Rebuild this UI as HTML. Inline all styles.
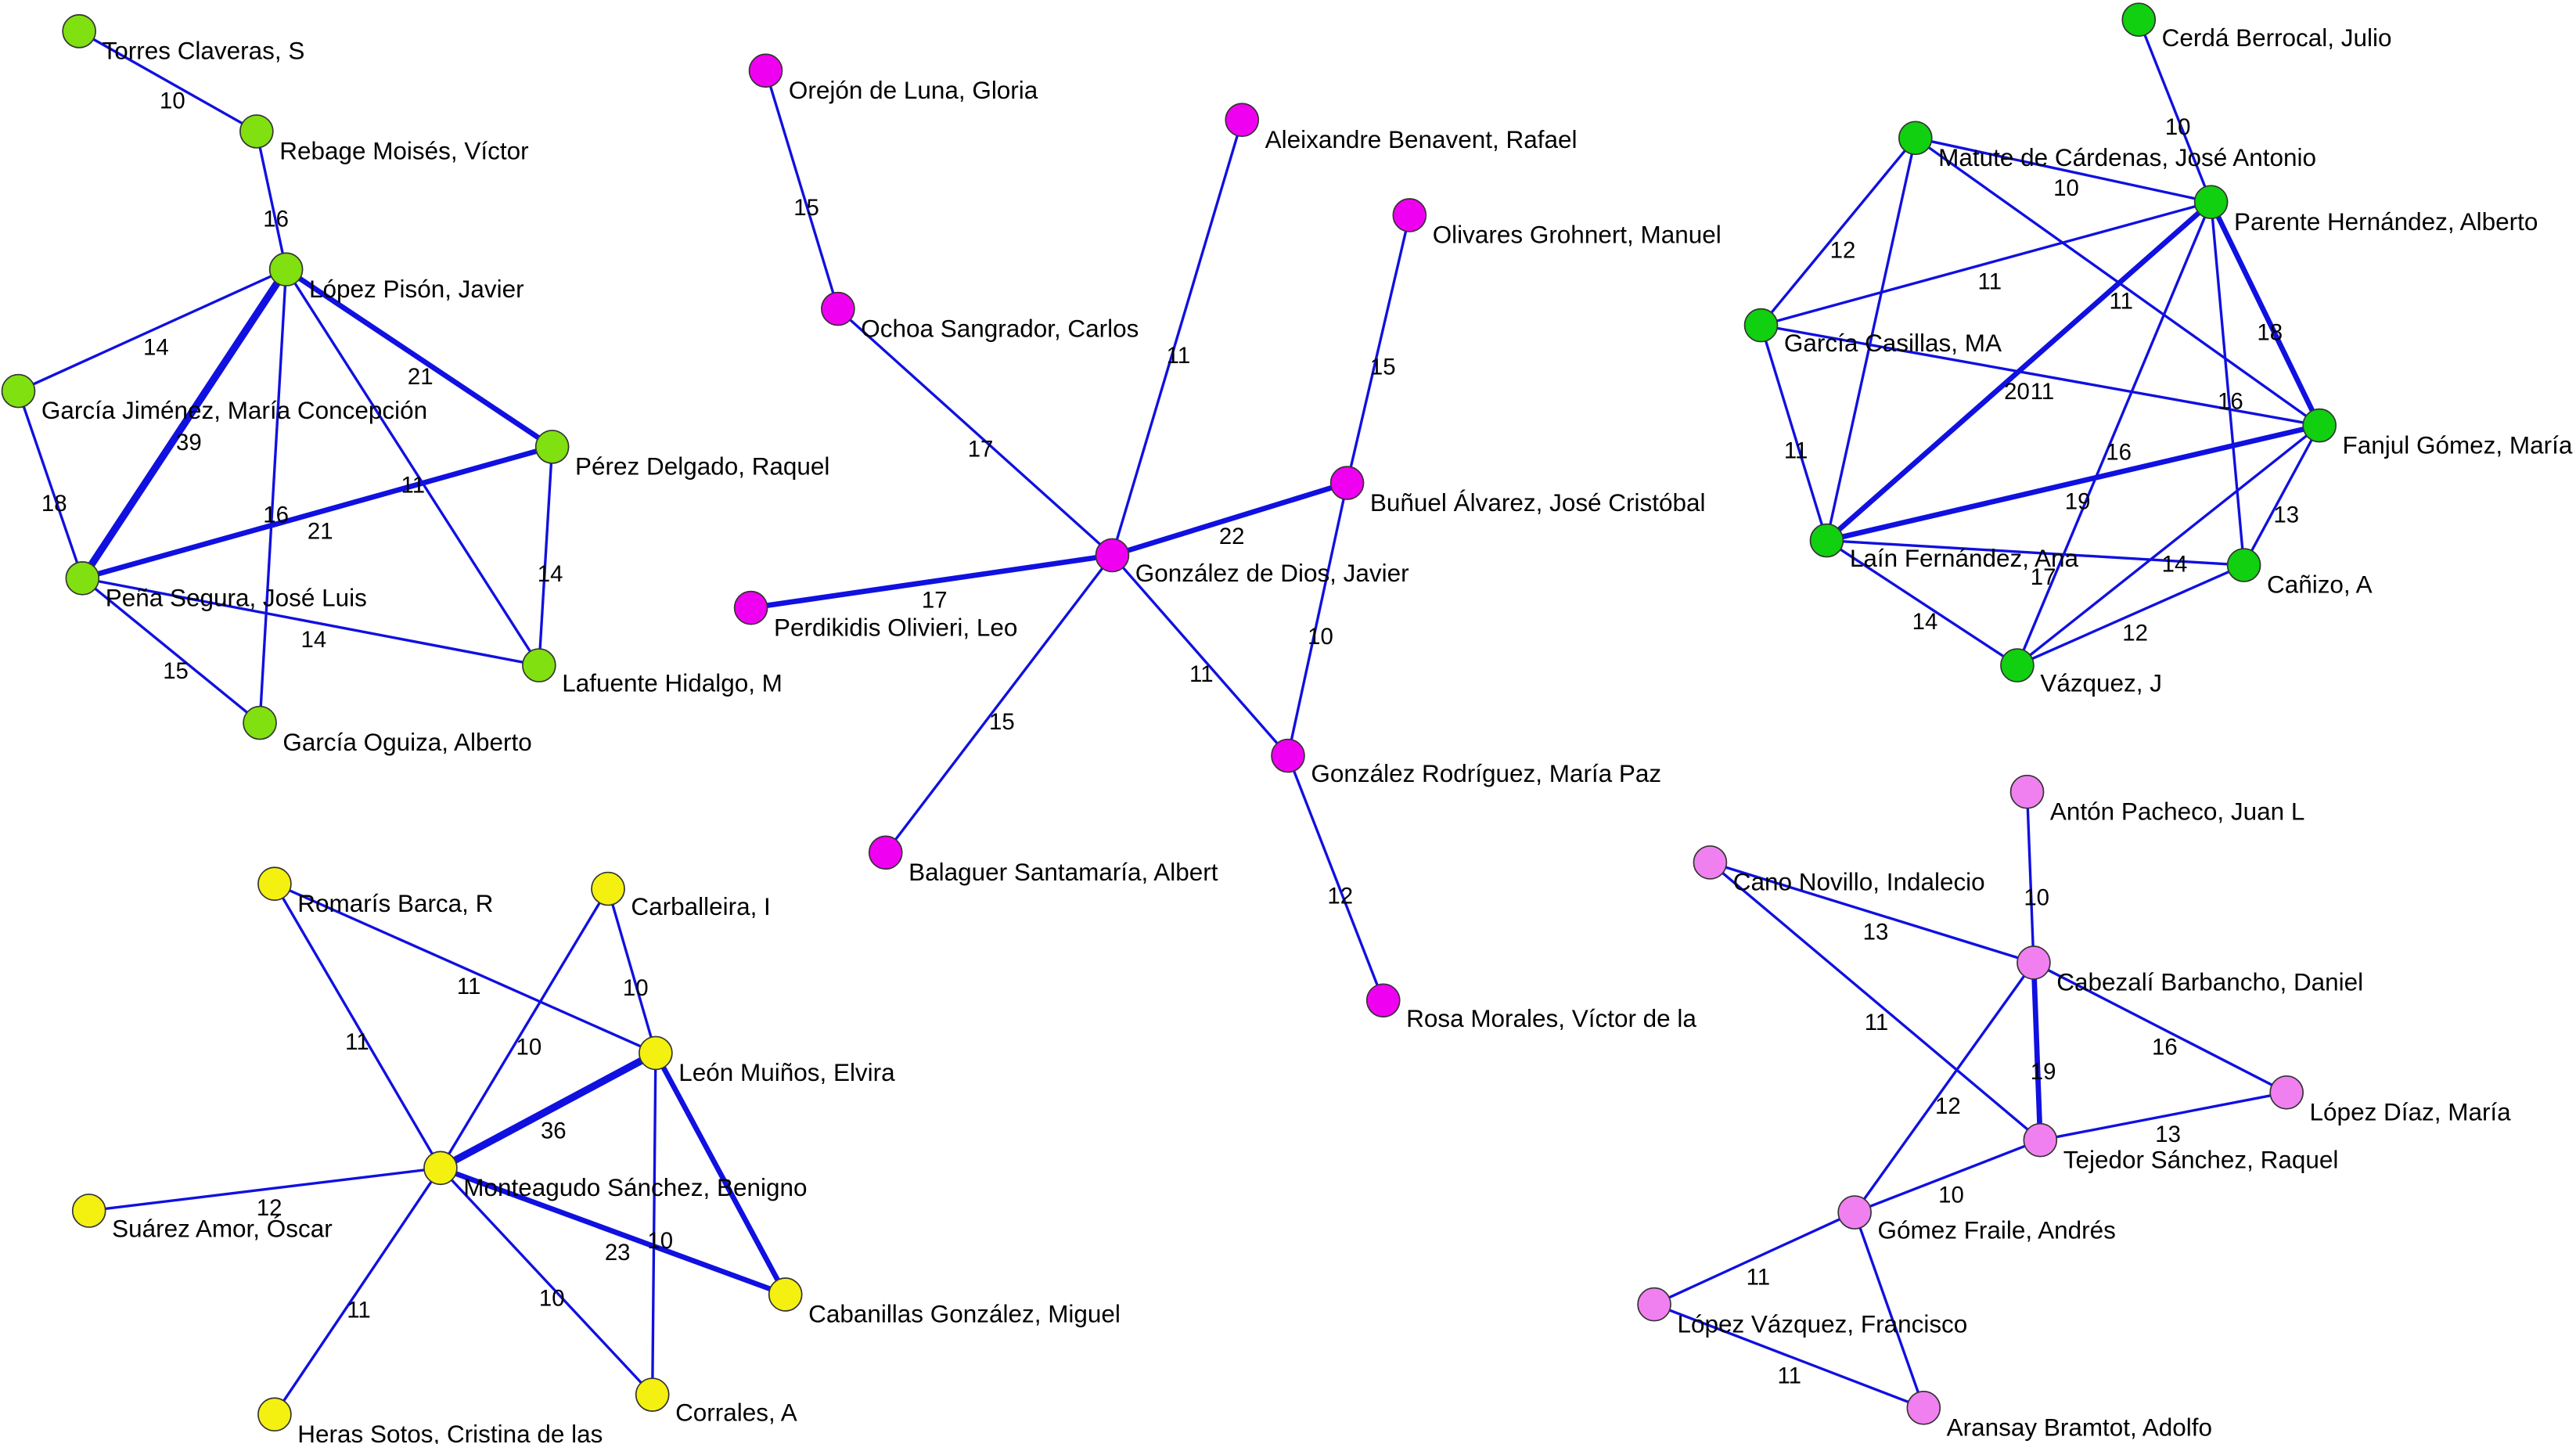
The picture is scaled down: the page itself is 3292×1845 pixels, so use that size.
<!DOCTYPE html>
<html><head><meta charset="utf-8"><style>
html,body{margin:0;padding:0;background:#fff;}
svg{display:block;}
text{font-family:"Liberation Sans",sans-serif;fill:#000;}
.n{font-size:15px;}
.w{font-size:14px;fill:#333;}
line{stroke:#1010e0;stroke-width:1.6;}
.t{stroke-width:3.2;}
.tt{stroke-width:4.5;}
circle{stroke:#333;stroke-width:0.8;}
.g1{fill:#80e010;}
.m{fill:#f000f0;}
.g2{fill:#10d010;}
.y{fill:#f4f010;}
.p{fill:#f080f0;}
</style></head><body>
<svg width="3292" height="1845" viewBox="0 0 1568 879" xmlns="http://www.w3.org/2000/svg">
<rect width="1568" height="879" fill="#fff"/>
<!-- cluster 1 -->
<line x1="48" y1="19" x2="156" y2="80"/>
<line x1="156" y1="80" x2="174" y2="164"/>
<line x1="174" y1="164" x2="11" y2="238"/>
<line class="tt" x1="174" y1="164" x2="50" y2="352"/>
<line class="t" x1="174" y1="164" x2="336" y2="272"/>
<line x1="174" y1="164" x2="328" y2="405"/>
<line x1="174" y1="164" x2="158" y2="440"/>
<line x1="11" y1="238" x2="50" y2="352"/>
<line class="t" x1="50" y1="352" x2="336" y2="272"/>
<line x1="50" y1="352" x2="328" y2="405"/>
<line x1="50" y1="352" x2="158" y2="440"/>
<line x1="336" y1="272" x2="328" y2="405"/>
<!-- magenta -->
<line x1="466" y1="43" x2="510" y2="188"/>
<line x1="510" y1="188" x2="677" y2="338"/>
<line x1="756" y1="73" x2="677" y2="338"/>
<line x1="858" y1="131" x2="820" y2="294"/>
<line class="t" x1="820" y1="294" x2="677" y2="338"/>
<line class="t" x1="457" y1="370" x2="677" y2="338"/>
<line x1="677" y1="338" x2="539" y2="519"/>
<line x1="677" y1="338" x2="784" y2="460"/>
<line x1="820" y1="294" x2="784" y2="460"/>
<line x1="784" y1="460" x2="842" y2="609"/>
<!-- dark green -->
<line x1="1302" y1="12" x2="1346" y2="123"/>
<line x1="1166" y1="84" x2="1346" y2="123"/>
<line x1="1166" y1="84" x2="1072" y2="198"/>
<line x1="1166" y1="84" x2="1112" y2="329"/>
<line x1="1166" y1="84" x2="1412" y2="259"/>
<line x1="1346" y1="123" x2="1072" y2="198"/>
<line class="t" x1="1346" y1="123" x2="1112" y2="329"/>
<line class="t" x1="1346" y1="123" x2="1412" y2="259"/>
<line x1="1346" y1="123" x2="1366" y2="344"/>
<line x1="1346" y1="123" x2="1228" y2="405"/>
<line x1="1072" y1="198" x2="1412" y2="259"/>
<line x1="1072" y1="198" x2="1112" y2="329"/>
<line class="t" x1="1112" y1="329" x2="1412" y2="259"/>
<line x1="1112" y1="329" x2="1366" y2="344"/>
<line x1="1112" y1="329" x2="1228" y2="405"/>
<line x1="1412" y1="259" x2="1366" y2="344"/>
<line x1="1412" y1="259" x2="1228" y2="405"/>
<line x1="1228" y1="405" x2="1366" y2="344"/>
<!-- yellow -->
<line x1="167" y1="538" x2="399" y2="641"/>
<line x1="167" y1="538" x2="268" y2="711"/>
<line x1="370" y1="541" x2="399" y2="641"/>
<line x1="370" y1="541" x2="268" y2="711"/>
<line class="tt" x1="399" y1="641" x2="268" y2="711"/>
<line class="t" x1="399" y1="641" x2="478" y2="788"/>
<line x1="399" y1="641" x2="397" y2="849"/>
<line x1="268" y1="711" x2="54" y2="737"/>
<line class="t" x1="268" y1="711" x2="478" y2="788"/>
<line x1="268" y1="711" x2="397" y2="849"/>
<line x1="268" y1="711" x2="167" y2="861"/>
<!-- pink -->
<line x1="1234" y1="482" x2="1238" y2="586"/>
<line x1="1041" y1="525" x2="1238" y2="586"/>
<line x1="1041" y1="525" x2="1242" y2="694"/>
<line class="t" x1="1238" y1="586" x2="1242" y2="694"/>
<line x1="1238" y1="586" x2="1392" y2="665"/>
<line x1="1238" y1="586" x2="1129" y2="738"/>
<line x1="1242" y1="694" x2="1392" y2="665"/>
<line x1="1242" y1="694" x2="1129" y2="738"/>
<line x1="1129" y1="738" x2="1007" y2="794"/>
<line x1="1129" y1="738" x2="1171" y2="857"/>
<line x1="1007" y1="794" x2="1171" y2="857"/>

<!-- weights -->
<g class="w">
<text x="97" y="66">10</text><text x="160" y="138">16</text><text x="87" y="216">14</text><text x="107" y="274">39</text>
<text x="248" y="234">21</text><text x="244" y="300">11</text><text x="160" y="318">16</text><text x="25" y="311">18</text>
<text x="187" y="328">21</text><text x="183" y="394">14</text><text x="99" y="413">15</text><text x="327" y="354">14</text>
<text x="483" y="131">15</text><text x="589" y="278">17</text><text x="710" y="221">11</text><text x="834" y="228">15</text>
<text x="742" y="331">22</text><text x="561" y="370">17</text><text x="602" y="444">15</text><text x="724" y="415">11</text>
<text x="796" y="392">10</text><text x="808" y="550">12</text>
<text x="1318" y="82">10</text><text x="1250" y="119">10</text><text x="1114" y="157">12</text><text x="1086" y="279">11</text>
<text x="1284" y="188">11</text><text x="1204" y="176">11</text><text x="1220" y="243">20</text><text x="1236" y="243">11</text>
<text x="1374" y="207">18</text><text x="1350" y="249">16</text><text x="1282" y="280">16</text><text x="1257" y="310">19</text>
<text x="1316" y="348">14</text><text x="1164" y="383">14</text><text x="1384" y="318">13</text><text x="1292" y="390">12</text><text x="1236" y="356">17</text>
<text x="278" y="605">11</text><text x="210" y="639">11</text><text x="379" y="606">10</text><text x="314" y="642">10</text>
<text x="329" y="693">36</text><text x="394" y="760">10</text><text x="156" y="740">12</text><text x="368" y="767">23</text>
<text x="328" y="795">10</text><text x="211" y="802">11</text>
<text x="1232" y="551">10</text><text x="1134" y="572">13</text><text x="1135" y="627">11</text><text x="1236" y="657">19</text>
<text x="1310" y="642">16</text><text x="1178" y="678">12</text><text x="1312" y="695">13</text><text x="1180" y="732">10</text>
<text x="1063" y="782">11</text><text x="1082" y="842">11</text>
</g>

<!-- nodes -->
<g>
<circle class="g1" cx="48" cy="19" r="10"/><circle class="g1" cx="156" cy="80" r="10"/><circle class="g1" cx="174" cy="164" r="10"/>
<circle class="g1" cx="11" cy="238" r="10"/><circle class="g1" cx="336" cy="272" r="10"/><circle class="g1" cx="50" cy="352" r="10"/>
<circle class="g1" cx="328" cy="405" r="10"/><circle class="g1" cx="158" cy="440" r="10"/>
<circle class="m" cx="466" cy="43" r="10"/><circle class="m" cx="756" cy="73" r="10"/><circle class="m" cx="858" cy="131" r="10"/>
<circle class="m" cx="510" cy="188" r="10"/><circle class="m" cx="820" cy="294" r="10"/><circle class="m" cx="677" cy="338" r="10"/>
<circle class="m" cx="457" cy="370" r="10"/><circle class="m" cx="784" cy="460" r="10"/><circle class="m" cx="539" cy="519" r="10"/>
<circle class="m" cx="842" cy="609" r="10"/>
<circle class="g2" cx="1302" cy="12" r="10"/><circle class="g2" cx="1166" cy="84" r="10"/><circle class="g2" cx="1346" cy="123" r="10"/>
<circle class="g2" cx="1072" cy="198" r="10"/><circle class="g2" cx="1412" cy="259" r="10"/><circle class="g2" cx="1112" cy="329" r="10"/>
<circle class="g2" cx="1366" cy="344" r="10"/><circle class="g2" cx="1228" cy="405" r="10"/>
<circle class="y" cx="167" cy="538" r="10"/><circle class="y" cx="370" cy="541" r="10"/><circle class="y" cx="399" cy="641" r="10"/>
<circle class="y" cx="268" cy="711" r="10"/><circle class="y" cx="54" cy="737" r="10"/><circle class="y" cx="478" cy="788" r="10"/>
<circle class="y" cx="397" cy="849" r="10"/><circle class="y" cx="167" cy="861" r="10"/>
<circle class="p" cx="1234" cy="482" r="10"/><circle class="p" cx="1041" cy="525" r="10"/><circle class="p" cx="1238" cy="586" r="10"/>
<circle class="p" cx="1392" cy="665" r="10"/><circle class="p" cx="1242" cy="694" r="10"/><circle class="p" cx="1129" cy="738" r="10"/>
<circle class="p" cx="1007" cy="794" r="10"/><circle class="p" cx="1171" cy="857" r="10"/>
</g>

<!-- names -->
<g class="n">
<text x="62" y="36">Torres Claveras, S</text>
<text x="170" y="97">Rebage Moisés, Víctor</text>
<text x="188" y="181">López Pisón, Javier</text>
<text x="25" y="255">García Jiménez, María Concepción</text>
<text x="350" y="289">Pérez Delgado, Raquel</text>
<text x="64" y="369">Peña Segura, José Luis</text>
<text x="342" y="421">Lafuente Hidalgo, M</text>
<text x="172" y="457">García Oguiza, Alberto</text>
<text x="480" y="60">Orejón de Luna, Gloria</text>
<text x="770" y="90">Aleixandre Benavent, Rafael</text>
<text x="872" y="148">Olivares Grohnert, Manuel</text>
<text x="524" y="205">Ochoa Sangrador, Carlos</text>
<text x="834" y="311">Buñuel Álvarez, José Cristóbal</text>
<text x="691" y="354">González de Dios, Javier</text>
<text x="471" y="387">Perdikidis Olivieri, Leo</text>
<text x="798" y="476">González Rodríguez, María Paz</text>
<text x="553" y="536">Balaguer Santamaría, Albert</text>
<text x="856" y="625">Rosa Morales, Víctor de la</text>
<text x="1316" y="28">Cerdá Berrocal, Julio</text>
<text x="1180" y="101">Matute de Cárdenas, José Antonio</text>
<text x="1360" y="140">Parente Hernández, Alberto</text>
<text x="1086" y="214">García Casillas, MA</text>
<text x="1426" y="276">Fanjul Gómez, María</text>
<text x="1126" y="345">Laín Fernández, Ana</text>
<text x="1380" y="361">Cañizo, A</text>
<text x="1242" y="421">Vázquez, J</text>
<text x="181" y="555">Romarís Barca, R</text>
<text x="384" y="557">Carballeira, I</text>
<text x="413" y="658">León Muiños, Elvira</text>
<text x="282" y="728">Monteagudo Sánchez, Benigno</text>
<text x="68" y="753">Suárez Amor, Óscar</text>
<text x="492" y="805">Cabanillas González, Miguel</text>
<text x="411" y="865">Corrales, A</text>
<text x="181" y="878">Heras Sotos, Cristina de las</text>
<text x="1248" y="499">Antón Pacheco, Juan L</text>
<text x="1055" y="542">Cano Novillo, Indalecio</text>
<text x="1252" y="603">Cabezalí Barbancho, Daniel</text>
<text x="1406" y="682">López Díaz, María</text>
<text x="1256" y="711">Tejedor Sánchez, Raquel</text>
<text x="1143" y="754">Gómez Fraile, Andrés</text>
<text x="1021" y="811">López Vázquez, Francisco</text>
<text x="1185" y="874">Aransay Bramtot, Adolfo</text>
</g>
</svg>
</body></html>
